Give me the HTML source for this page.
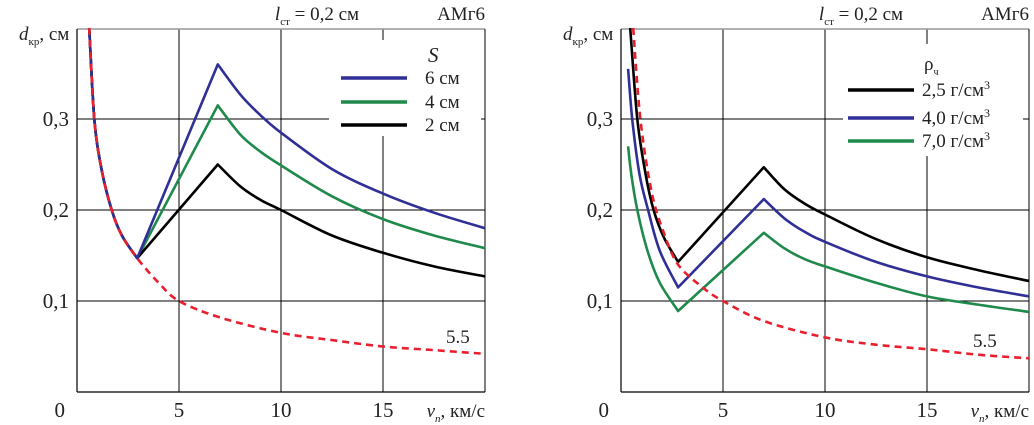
<!DOCTYPE html>
<html><head><meta charset="utf-8"><style>
body{margin:0;background:#fff;}
svg{display:block;font-family:"Liberation Serif","DejaVu Serif",serif;}
</style></head><body>
<svg id="chart" width="1034" height="425" viewBox="0 0 1034 425" xmlns="http://www.w3.org/2000/svg"></svg>
<script>
// ---- data: left panel (S) ----
const leftRedV = [0.6,0.85,1.2,1.7,2.2,2.95,4,5,7,10,12.5,15,17.5,20];
const leftRedD = [0.4,0.3,0.245,0.2,0.172,0.147,0.12,0.1,0.082,0.065,0.057,0.05,0.046,0.042];
const leftDescV = [0.6,0.85,1.2,1.7,2.2,2.95];
const leftDescD = [0.4,0.3,0.245,0.2,0.172,0.147];
const leftTailV = [6.9,8,9,10,12.5,15,17.5,20];
const leftBlueTail = [0.36,0.327,0.304,0.285,0.245,0.218,0.197,0.18];
const leftGreenTail = [0.315,0.283,0.264,0.249,0.215,0.19,0.172,0.158];
const leftBlackTail = [0.25,0.226,0.211,0.2,0.172,0.153,0.138,0.127];
// ---- data: right panel (rho) ----
const rightRedV = [0.6,0.95,1.5,2.1,2.8,4,5,7,10,12.5,15,17.5,20];
const rightRedD = [0.4,0.3,0.22,0.175,0.14,0.115,0.1,0.078,0.06,0.052,0.047,0.041,0.037];
const rightBlackV = [0.45,0.8,1.2,1.6,2.1,2.8,7,8,9,10,12.5,15,17.5,20];
const rightBlackD = [0.4,0.3,0.24,0.2,0.17,0.143,0.247,0.223,0.207,0.195,0.168,0.148,0.134,0.122];
const rightBlueV = [0.35,0.55,0.9,1.33,1.9,2.8,7,8,9,10,12.5,15,17.5,20];
const rightBlueD = [0.355,0.3,0.24,0.2,0.155,0.115,0.212,0.191,0.176,0.165,0.143,0.127,0.115,0.105];
const rightGreenV = [0.35,0.5,0.8,1.3,1.9,2.8,7,8,9,10,12.5,15,17.5,20];
const rightGreenD = [0.27,0.24,0.2,0.155,0.12,0.089,0.175,0.158,0.146,0.138,0.12,0.105,0.096,0.088];
const xTicks = [5,10,15];
const yTicks = [0.1,0.2,0.3];
const yTickLabels = ["0,1","0,2","0,3"];

const NS="http://www.w3.org/2000/svg";
const svg=document.getElementById('chart');
function el(tag,attrs,parent){const e=document.createElementNS(NS,tag);for(const k in attrs)e.setAttribute(k,attrs[k]);(parent||svg).appendChild(e);return e;}
const yS=d=>392-d*910;
function panel(x0,name){
  const g=el('g',{});
  
  
  const xS=v=>x0+v*20.4;
  xTicks.forEach(t=>{const l=el('line',{x1:xS(t),x2:xS(t),y1:29,y2:392,stroke:'#000','stroke-width':1},g);
    });
  yTicks.forEach(t=>{const l=el('line',{x1:x0,x2:xS(20),y1:yS(t),y2:yS(t),stroke:'#000','stroke-width':1},g);
    });
  el('line',{x1:x0,x2:xS(20),y1:29,y2:29,stroke:'#999','stroke-width':1.5},g);
  const ax=el('line',{x1:x0,x2:x0,y1:29,y2:392,stroke:'#000','stroke-width':1.2},g);
  
  const bx=el('line',{x1:x0,x2:xS(20),y1:392,y2:392,stroke:'#000','stroke-width':1.2},g);
  
  el('line',{x1:xS(20),x2:xS(20),y1:29,y2:392,stroke:'#000','stroke-width':1},g);
  xTicks.forEach(t=>{const tx=el('text',{x:xS(t),y:417,'font-size':21,'text-anchor':'middle',fill:'#222'},g);tx.textContent=t;
    });
  yTicks.forEach((t,i)=>{const tx=el('text',{x:x0-8,y:yS(t)+7,'font-size':21,'text-anchor':'end',fill:'#222'},g);tx.textContent=yTickLabels[i];
    });
  const z=el('text',{x:x0-12,y:417,'font-size':21,'text-anchor':'end',fill:'#222'},g);z.textContent='0';
  return {g,xS};
}
function smoothSeg(P){
  let d='';
  for(let i=0;i<P.length-1;i++){
    const p0=P[Math.max(0,i-1)],p1=P[i],p2=P[i+1],p3=P[Math.min(P.length-1,i+2)];
    const c1=[p1[0]+(p2[0]-p0[0])/6,p1[1]+(p2[1]-p0[1])/6];
    const c2=[p2[0]-(p3[0]-p1[0])/6,p2[1]-(p3[1]-p1[1])/6];
    d+=' C'+c1[0].toFixed(1)+','+c1[1].toFixed(1)+' '+c2[0].toFixed(1)+','+c2[1].toFixed(1)+' '+p2[0].toFixed(1)+','+p2[1].toFixed(1);
  }
  return d;
}
function line(p,vs,ds,color,name,dash,kinks){
  const P=vs.map((v,i)=>[p.xS(v),yS(ds[i])]);
  const cuts=[0].concat(kinks||[]).concat([P.length-1]);
  let d='M'+P[0][0].toFixed(1)+','+P[0][1].toFixed(1);
  for(let k=0;k<cuts.length-1;k++){
    const seg=P.slice(cuts[k],cuts[k+1]+1);
    d+=seg.length>2?smoothSeg(seg):' L'+seg[1][0].toFixed(1)+','+seg[1][1].toFixed(1);
  }
  const a={d,fill:'none',stroke:color,'stroke-width':2.6,'stroke-linejoin':'round'};
  if(dash)a['stroke-dasharray']=dash;
  const l=el('path',a,p.g);
  
  
}
const BLUE='#2f2f96',GREEN='#1f8a4c',BLACK='#000',RED='#e8202e';
function legend(p,x,y,w,h,items,lx,tx,ys){
  const r=el('rect',{x,y,width:w,height:h,fill:'#fff'},p.g);
  
  items.forEach((it,i)=>{
    const l=el('line',{x1:lx,x2:lx+66,y1:ys[i],y2:ys[i],stroke:it[1],'stroke-width':3.5},p.g);
    
    const t=el('text',{x:tx,y:ys[i]+6,'font-size':19,fill:'#222'},p.g);t.innerHTML=it[0];
    
  });
}
function header(x0,name){
  const t=el('text',{x:x0+240,y:20,'font-size':19,fill:'#222','text-anchor':'middle'});
  t.innerHTML='<tspan font-style="italic">l</tspan><tspan font-size="11" dy="5">ст</tspan><tspan dy="-5"> = 0,2 см</tspan>';
  
  const a=el('text',{x:x0+408,y:20,'font-size':19,fill:'#222','text-anchor':'end'});a.textContent='АМг6';
  
  const y=el('text',{x:x0-58,y:40,'font-size':19,fill:'#222'});
  y.innerHTML='<tspan font-style="italic">d</tspan><tspan font-size="11" dy="5">кр</tspan><tspan dy="-5">, см</tspan>';
  
  const x=el('text',{x:x0+408,y:417,'font-size':19,fill:'#222','text-anchor':'end'});
  x.innerHTML='<tspan font-style="italic">v</tspan><tspan font-size="11" dy="5" font-style="italic">п</tspan><tspan dy="-5">, км/с</tspan>';
  
}
// left panel
const L=panel(77,'left-panel');
legend(L,329,40,152,96,[['6 см',BLUE],['4 см',GREEN],['2 см',BLACK]],341,425,[78,102,125]);
const st=el('text',{x:428,y:62,'font-size':21,'font-style':'italic',fill:'#222'},L.g);st.textContent='S';

line(L,leftDescV.concat(leftTailV),leftDescD.concat(leftGreenTail),GREEN,'series-4cm',null,[5,6]);
line(L,leftDescV.concat(leftTailV),leftDescD.concat(leftBlackTail),BLACK,'series-2cm',null,[5,6]);
line(L,leftDescV.concat(leftTailV),leftDescD.concat(leftBlueTail),BLUE,'series-6cm',null,[5,6]);
line(L,leftRedV,leftRedD,RED,'series-5-5-dashed','7,5',[]);
const l55=el('text',{x:446,y:343,'font-size':19,fill:'#222'},L.g);l55.textContent='5.5';

header(77,'left');
// right panel
const R=panel(621,'right-panel');
legend(R,843,44,180,112,[['2,5 г/см<tspan font-size="12" dy="-7">3</tspan>',BLACK],['4,0 г/см<tspan font-size="12" dy="-7">3</tspan>',BLUE],['7,0 г/см<tspan font-size="12" dy="-7">3</tspan>',GREEN]],848,922,[90,118,141]);
const rt=el('text',{x:924,y:70,'font-size':19,fill:'#222'},R.g);rt.innerHTML='ρ<tspan font-size="10" dy="5">ч</tspan>';

line(R,rightGreenV,rightGreenD,GREEN,'series-7-0',null,[5,6]);
line(R,rightBlueV,rightBlueD,BLUE,'series-4-0',null,[5,6]);
line(R,rightBlackV,rightBlackD,BLACK,'series-2-5',null,[5,6]);
line(R,rightRedV,rightRedD,RED,'series-5-5-dashed','7,5',[]);
const r55=el('text',{x:973,y:347,'font-size':19,fill:'#222'},R.g);r55.textContent='5.5';

header(621,'right');
</script>
</body></html>
